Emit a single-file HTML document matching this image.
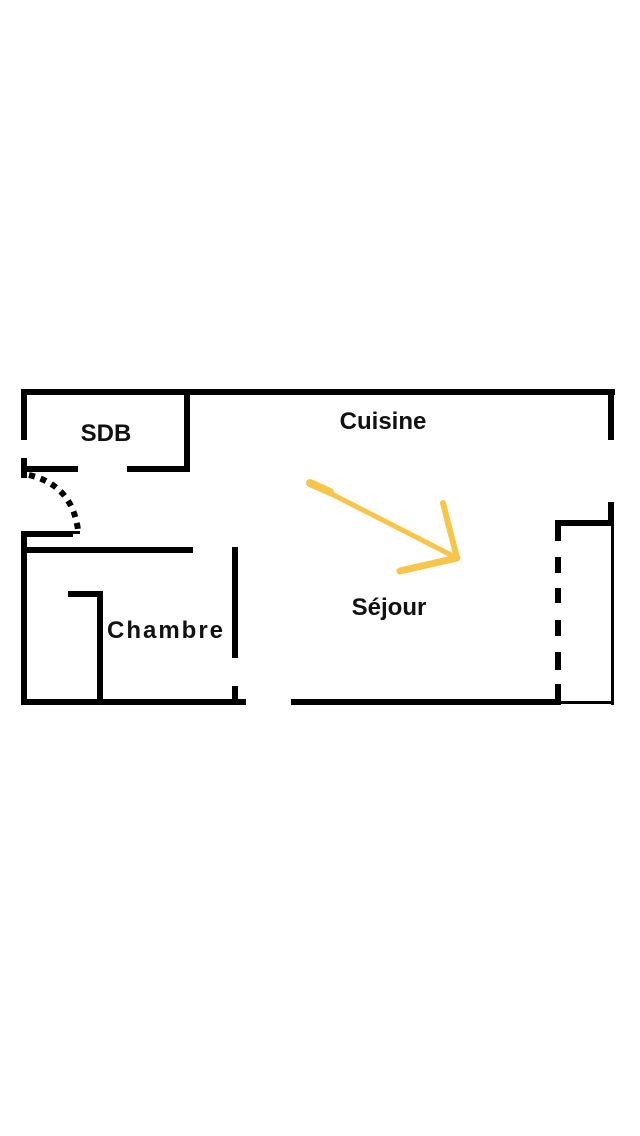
<!DOCTYPE html>
<html><head><style>
html,body{margin:0;padding:0;background:#fff;width:640px;height:1136px;overflow:hidden}
svg{display:block}
text{font-family:"Liberation Sans",sans-serif;font-weight:bold;font-size:24px;fill:#111}
</style></head><body>
<svg width="640" height="1136" viewBox="0 0 640 1136">
<g fill="#000">
<rect x="21" y="389" width="594" height="6"/>
<rect x="21" y="389" width="6" height="51"/>
<rect x="21" y="458" width="6" height="20"/>
<rect x="21" y="466" width="57" height="6"/>
<rect x="127" y="466" width="63" height="6"/>
<rect x="184" y="389" width="6" height="83"/>
<rect x="21" y="531" width="52" height="6"/>
<rect x="73" y="531" width="7" height="3"/>
<rect x="21" y="531" width="6" height="174"/>
<rect x="27" y="547" width="166" height="6"/>
<rect x="232" y="547" width="6" height="111"/>
<rect x="232" y="686" width="6" height="14"/>
<rect x="68" y="591" width="35" height="6"/>
<rect x="97" y="591" width="6" height="110"/>
<rect x="21" y="699" width="225" height="6"/>
<rect x="291" y="699" width="265" height="6"/>
<rect x="608" y="389" width="6" height="51"/>
<rect x="608" y="502" width="6" height="23"/>
<rect x="555" y="520" width="59" height="6"/>
<rect x="611" y="520" width="3" height="185"/>
<rect x="556" y="701" width="58" height="3"/>
<rect x="555" y="520" width="6" height="21"/>
<rect x="555" y="557" width="6" height="16"/>
<rect x="555" y="588" width="6" height="15"/>
<rect x="555" y="620" width="6" height="16"/>
<rect x="555" y="652" width="6" height="18"/>
<rect x="555" y="684" width="6" height="21"/>
</g>
<path d="M29 475 Q72 485 78 530" fill="none" stroke="#000" stroke-width="6" stroke-dasharray="6 6"/>
<g stroke="#F7C54A" stroke-linecap="round" fill="none">
<path d="M310 483 L457 558" stroke-width="5"/>
<path d="M310 483 L330 492" stroke-width="8"/>
<path d="M443 503 L457 558" stroke-width="6"/>
<path d="M457 558 L400 571" stroke-width="7"/>
</g>
<text x="106" y="441" text-anchor="middle">SDB</text>
<text x="383" y="429" text-anchor="middle">Cuisine</text>
<text x="389" y="615" text-anchor="middle">Séjour</text>
<text x="165" y="638" text-anchor="middle" textLength="116">Chambre</text>
</svg>
</body></html>
